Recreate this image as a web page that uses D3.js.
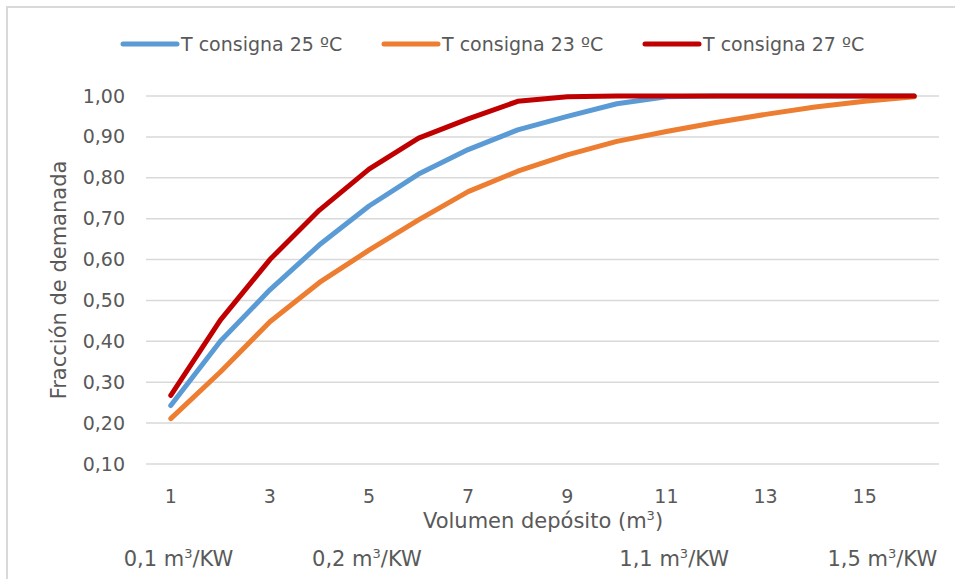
<!DOCTYPE html>
<html><head><meta charset="utf-8">
<script src="https://cdn.jsdelivr.net/npm/d3@7"></script>
<style>
html,body{margin:0;padding:0;background:#fff;}
svg text{font-family:"DejaVu Sans",sans-serif;fill:#595959;}
</style></head>
<body>
<svg id="chart" width="955" height="579"></svg>
<script>
const categories = [1,2,3,4,5,6,7,8,9,10,11,12,13,14,15,16];
const tickCategories = [1,3,5,7,9,11,13,15];
const yTicks = [0.1,0.2,0.3,0.4,0.5,0.6,0.7,0.8,0.9,1.0];
const seriesNames = ["T consigna 25 ºC","T consigna 23 ºC","T consigna 27 ºC"];
const seriesColors = ["#5B9BD5","#ED7D31","#C00000"];
const t25 = [0.243,0.400,0.526,0.636,0.731,0.809,0.869,0.917,0.950,0.981,0.998,1,1,1,1,1];
const t23 = [0.211,0.325,0.448,0.544,0.623,0.697,0.766,0.816,0.856,0.889,0.913,0.935,0.955,0.973,0.987,0.998];
const t27 = [0.268,0.452,0.600,0.721,0.821,0.897,0.944,0.987,0.998,1,1,1,1,1,1,1];
const ratioLabels = ["0,1","0,2","1,1","1,5"];
const ratioPositions = [0.05,3.85,10.05,14.25]; // along category axis
const yTitle = "Fracción de demanada";

(function(){
const svg = d3.select("#chart");
const W = 955, H = 579;
const pL = 146, pR = 939, pT = 96, pB = 464;
const FONT = "'DejaVu Sans', sans-serif";

// border
svg.append("path").attr("d", `M7,${H} L7,7 L${W},7`).attr("fill","none")
  .attr("stroke","#D9D9D9").attr("stroke-width",2);

const xb = d3.scaleBand().domain(categories).range([pL,pR]).padding(0);
const x = c => xb(c) + xb.bandwidth()/2;
const xc = d3.scaleLinear().domain([1,16]).range([x(1), x(16)]);
const y = d3.scaleLinear().domain([0.1,1.0]).range([pB, pT]);

// gridlines
svg.append("g").selectAll("line").data(yTicks).join("line")
  .attr("x1",pL).attr("x2",pR)
  .attr("y1",d=>y(d)).attr("y2",d=>y(d))
  .attr("stroke","#D9D9D9").attr("stroke-width",1.5);

// y axis labels
const yAxis = d3.axisLeft(y).tickValues(yTicks).tickSize(0).tickPadding(0)
  .tickFormat(d => d3.format(".2f")(d).replace(".",","));
const yg = svg.append("g").attr("transform",`translate(125,0)`).call(yAxis);
yg.select(".domain").remove();
yg.selectAll("text").attr("font-size",19).attr("fill","#595959").style("font-family",FONT);

// x axis labels
const xAxis = d3.axisBottom(xb).tickValues(tickCategories).tickSize(0).tickPadding(0);
const xg = svg.append("g").attr("transform",`translate(0,${pB+25})`).call(xAxis);
xg.select(".domain").remove();
xg.selectAll("text").attr("font-size",19).attr("fill","#595959").style("font-family",FONT);

// axis titles
svg.append("text").attr("transform",`translate(66,${(pT+pB)/2}) rotate(-90)`)
  .attr("text-anchor","middle").attr("font-size",21).text(yTitle);

const xt = svg.append("text").attr("x",543).attr("y",528)
  .attr("text-anchor","middle").attr("font-size",21);
xt.append("tspan").text("Volumen depósito (m");
xt.append("tspan").attr("font-size",13).attr("dy",-8).text("3");
xt.append("tspan").attr("dy",8).text(")");

// ratio labels
ratioLabels.forEach((lab,i)=>{
  const t = svg.append("text").attr("x",xc(ratioPositions[i])).attr("y",566).attr("font-size",21);
  t.append("tspan").text(lab+" m");
  t.append("tspan").attr("font-size",13).attr("dy",-8).text("3");
  t.append("tspan").attr("dy",8).text("/KW");
});

// lines
const seriesData = [t25,t23,t27];
const line = d3.line().x((d,i)=>x(categories[i])).y(d=>y(d));
svg.append("g").selectAll("path").data(seriesData).join("path")
  .attr("d",line).attr("fill","none")
  .attr("stroke",(d,i)=>seriesColors[i]).attr("stroke-width",5)
  .attr("stroke-linejoin","round").attr("stroke-linecap","round");

// legend
const legendX = [123,384,645];
const lg = svg.append("g");
seriesNames.forEach((n,i)=>{
  lg.append("line").attr("x1",legendX[i]).attr("x2",legendX[i]+54)
    .attr("y1",44).attr("y2",44).attr("stroke",seriesColors[i])
    .attr("stroke-width",5).attr("stroke-linecap","round");
  lg.append("text").attr("x",legendX[i]+58).attr("y",51).attr("font-size",19).text(n);
});
})();
</script>
</body></html>
